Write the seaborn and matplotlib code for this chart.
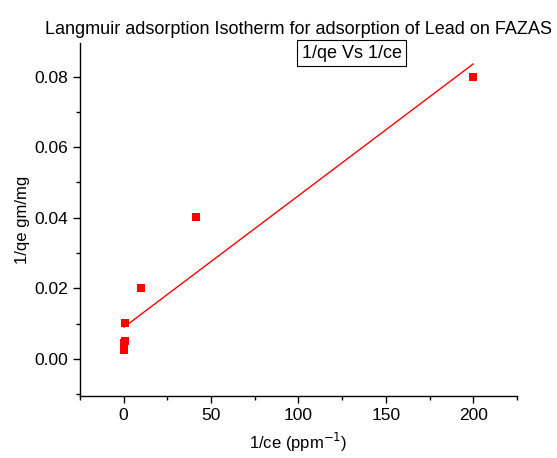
import numpy as np
import pandas as pd
import matplotlib
matplotlib.use("Agg")
import matplotlib.pyplot as plt
import seaborn as sns
from matplotlib.ticker import MultipleLocator

inv_ce = [200.0, 41.3, 9.8, 1.0, 0.5, 0.3, 0.2, 0.1]
inv_qe = [0.0800, 0.0401, 0.0201, 0.0102, 0.0051, 0.0044, 0.0035, 0.0026]
title = "Langmuir adsorption Isotherm for adsorption of Lead on FAZAS"
legend_text = "1/qe Vs 1/ce"
xticks = [0, 50, 100, 150, 200]
yticks = [0.00, 0.02, 0.04, 0.06, 0.08]

sns.set_style("ticks")
plt.rcParams['font.family'] = ['Liberation Sans', 'DejaVu Sans']
plt.rcParams['text.color'] = 'black'
plt.rcParams['axes.labelcolor'] = 'black'
plt.rcParams['xtick.color'] = 'black'
plt.rcParams['ytick.color'] = 'black'

df = pd.DataFrame({"x": inv_ce, "y": inv_qe})
slope, intercept = np.polyfit(df["x"], df["y"], 1)
fx = np.array([min(inv_ce), max(inv_ce)])
fit = pd.DataFrame({"x": fx, "y": slope * fx + intercept})

fig = plt.figure(figsize=(5.57, 4.58), dpi=100)
ax = fig.add_axes([0.1436, 0.1354, 0.7846, 0.7706])

sns.lineplot(data=fit, x="x", y="y", ax=ax, color="red", linewidth=1.0)
sns.scatterplot(data=df, x="x", y="y", ax=ax, marker="s", s=28, color="red",
                edgecolor="red", linewidth=0, zorder=3)

ax.set_xlim(-25, 225)
ax.set_ylim(-0.0105, 0.0895)
ax.set_xticks(xticks)
ax.set_yticks(yticks)
ax.set_yticklabels([f"{v:.2f}" for v in yticks])
ax.xaxis.set_minor_locator(MultipleLocator(25))
ax.yaxis.set_minor_locator(MultipleLocator(0.01))
ax.tick_params(which="major", length=5, width=1, labelsize=12.5, color="black",
               labelcolor="black")
ax.tick_params(which="minor", length=3, width=1, color="black")
for s in ["top", "right"]:
    ax.spines[s].set_visible(False)
for s in ["left", "bottom"]:
    ax.spines[s].set_linewidth(1.0)
    ax.spines[s].set_color("black")

ax.set_xlabel("1/ce (ppm$^{-1}$)", fontsize=12, labelpad=6)
ax.set_ylabel("1/qe gm/mg", fontsize=12, labelpad=3)
fig.text(0.536, 0.936, title, ha="center", va="center", fontsize=13)
ax.text(0.622, 0.995, legend_text, transform=ax.transAxes, ha="center", va="top",
        fontsize=13, bbox=dict(boxstyle="square,pad=0.25", facecolor="white",
                               edgecolor="black", linewidth=0.8))

fig.savefig("out.png", dpi=100)
